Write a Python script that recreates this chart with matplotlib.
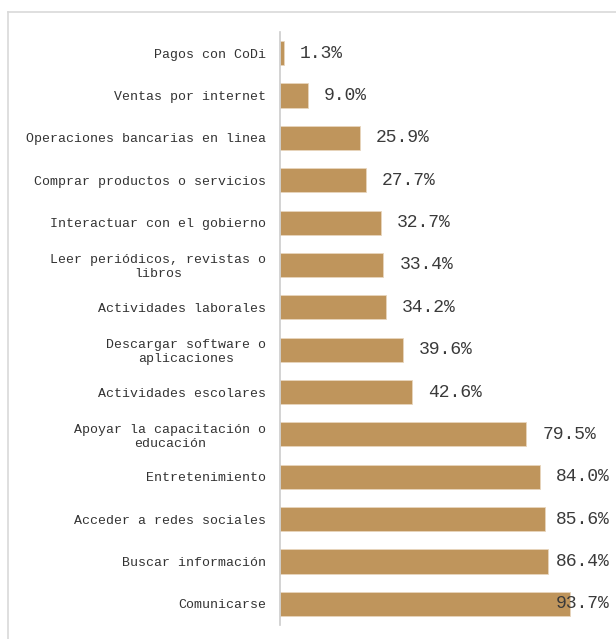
import matplotlib
matplotlib.use("Agg")
import matplotlib.pyplot as plt
import textwrap

categories = [
    "Pagos con CoDi",
    "Ventas por internet",
    "Operaciones bancarias en linea",
    "Comprar productos o servicios",
    "Interactuar con el gobierno",
    "Leer periódicos, revistas o libros",
    "Actividades laborales",
    "Descargar software o aplicaciones",
    "Actividades escolares",
    "Apoyar la capacitación o educación",
    "Entretenimiento",
    "Acceder a redes sociales",
    "Buscar información",
    "Comunicarse",
]
values = [1.3, 9.0, 25.9, 27.7, 32.7, 33.4, 34.2, 39.6, 42.6, 79.5, 84.0, 85.6, 86.4, 93.7]

BAR = "#BF955C"
TXT = "#333333"
FONT = ["Liberation Mono", "DejaVu Sans Mono"]

fig = plt.figure(figsize=(6.16, 6.39), dpi=100)
# figure border (left and top lines)
fig.add_artist(plt.Line2D([8/616, 8/616], [0, 1 - 12/639], color="#d9d9d9", lw=1.2, transform=fig.transFigure))
fig.add_artist(plt.Line2D([8/616, 1], [1 - 12/639, 1 - 12/639], color="#d9d9d9", lw=1.2, transform=fig.transFigure))

ax = fig.add_axes([280/616, 1 - 625/639, 336/616, (625 - 32)/639])
y = list(range(len(categories)))
ax.barh(y, values, height=0.57, color=BAR, edgecolor="#e8d6bd", linewidth=0.6)
xmax = 336/3.097
ax.set_xlim(0, xmax)
ax.set_ylim(len(categories) - 0.5, -0.5)

labels = [textwrap.fill(c, 30) for c in categories]
ax.set_yticks(y)
ax.set_yticklabels(labels, fontsize=9.5, family=FONT, color=TXT, ha="right",
                   multialignment="center", linespacing=1.2)
ax.tick_params(axis="y", length=0, pad=10)
ax.tick_params(axis="x", bottom=False, labelbottom=False)
for s in ["top", "right", "bottom"]:
    ax.spines[s].set_visible(False)
ax.spines["left"].set_color("#cccccc")
ax.spines["left"].set_linewidth(1.2)

cap = (556 - 280)/3.097
off = 16/3.097
for yi, v in zip(y, values):
    ax.text(min(v + off, cap), yi, f"{v:.1f}%", fontsize=13, family=FONT,
            color="#3a3a3a", va="center", ha="left")

fig.savefig("out.png", dpi=100, facecolor="white")
